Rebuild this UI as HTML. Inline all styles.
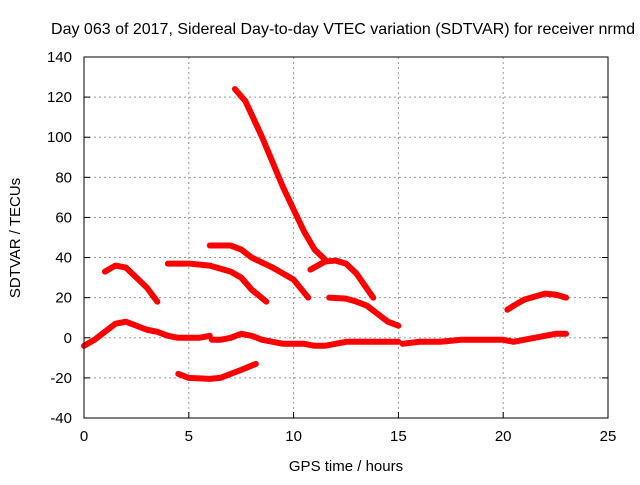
<!DOCTYPE html>
<html><head><meta charset="utf-8"><style>
body{margin:0;background:#fff}
svg text{font-family:"Liberation Sans",sans-serif;font-size:15px;fill:#000}
</style></head><body>
<svg id="chart" width="640" height="480" xmlns="http://www.w3.org/2000/svg">
<rect width="640" height="480" fill="#fff"/>
<text x="343" y="34" text-anchor="middle" style="font-size:16px">Day 063 of 2017, Sidereal Day-to-day VTEC variation (SDTVAR) for receiver nrmd</text>
<text x="346" y="471" text-anchor="middle">GPS time / hours</text>
<text transform="translate(20,238) rotate(-90)" text-anchor="middle">SDTVAR / TECUs</text>
<g id="grid"></g><g id="series"></g><g id="axes"></g>
</svg>
<script>
const xTicks=[0,5,10,15,20,25];
const yTicks=[-40,-20,0,20,40,60,80,100,120,140];
const seg1=[[0,-4],[0.5,-1],[1,3],[1.5,7],[2,8],[2.5,6],[3,4],[3.5,3],[4,1],[4.5,0],[5,0],[5.5,0],[6,1]];
const seg2=[[6.1,-1],[6.5,-1],[7,0],[7.5,2],[8,1],[8.5,-1],[9,-2],[9.5,-3],[10,-3],[10.5,-3],[11,-4],[11.5,-4],[12,-3],[12.5,-2],[13,-2],[13.5,-2],[14,-2],[14.5,-2],[15,-2]];
const seg3=[[15.2,-3],[16,-2],[17,-2],[18,-1],[19,-1],[20,-1],[20.5,-2],[21,-1],[21.5,0],[22,1],[22.5,2],[23,2]];
const seg4=[[1,33],[1.5,36],[2,35],[2.5,30],[3,25],[3.5,18]];
const seg5=[[4,37],[5,37],[6,36],[7,33],[7.5,30],[8,24],[8.7,18]];
const seg6=[[6,46],[7,46],[7.5,44],[8,40],[9,35],[10,29],[10.7,20]];
const seg7=[[7.2,124],[7.7,118],[8.5,100],[9.5,75],[10.5,53],[11,44],[11.5,39]];
const seg8=[[10.8,34],[11.5,38],[12,38.5],[12.5,37],[13,32],[13.8,20]];
const seg9=[[11.7,20],[12.5,19.5],[13,18],[13.5,16],[14,12],[14.5,8],[15,6]];
const seg10=[[4.5,-18],[5,-20],[6,-20.5],[6.5,-20],[7,-18],[7.5,-16],[8.2,-13]];
const seg11=[[20.2,14],[20.5,16],[21,19],[21.5,20.5],[22,22],[22.5,21.5],[23,20]];
const segments=[seg1,seg2,seg3,seg4,seg5,seg6,seg7,seg8,seg9,seg10,seg11];
const X0=84,X1=608,Y0=418,Y1=57;
const sx=v=>X0+(v-0)/25*(X1-X0);
const sy=v=>Y0-(v+40)/180*(Y0-Y1);
const NS='http://www.w3.org/2000/svg';
function mk(t,a,p){const e=document.createElementNS(NS,t);for(const k in a)e.setAttribute(k,a[k]);p.appendChild(e);return e;}
const grid=document.getElementById('grid'),axes=document.getElementById('axes'),ser=document.getElementById('series');
xTicks.forEach(t=>{
  if(t>0&&t<25){const g=mk('line',{x1:sx(t),x2:sx(t),y1:Y1,y2:Y0,stroke:'#999','stroke-dasharray':'2,3'},grid);
  
  }
  const tk=mk('line',{x1:sx(t),x2:sx(t),y1:Y0,y2:Y0-6,stroke:'#000'},axes);
  
  
  const tx=mk('text',{x:sx(t),y:Y0+23,'text-anchor':'middle'},axes);tx.textContent=t;
  
  
});
yTicks.forEach(t=>{
  if(t>-40&&t<140){const g=mk('line',{x1:X0,x2:X1,y1:sy(t),y2:sy(t),stroke:'#999','stroke-dasharray':'2,3'},grid);
  
  }
  const tk=mk('line',{x1:X0,x2:X0+6,y1:sy(t),y2:sy(t),stroke:'#000'},axes);
  
  
  const tk2=mk('line',{x1:X1,x2:X1-6,y1:sy(t),y2:sy(t),stroke:'#000'},axes);
  
  
  const tx=mk('text',{x:X0-12,y:sy(t)+5,'text-anchor':'end'},axes);tx.textContent=t;
  
  
});
const fr=mk('rect',{x:X0,y:Y1,width:X1-X0,height:Y0-Y1,fill:'none',stroke:'#000'},axes);


segments.forEach(s=>{
  const p=mk('polyline',{points:s.map(d=>sx(d[0])+','+sy(d[1])).join(' '),fill:'none',stroke:'#f00','stroke-width':6,'stroke-linejoin':'round','stroke-linecap':'round'},ser);
  
  
});
</script>
</body></html>
